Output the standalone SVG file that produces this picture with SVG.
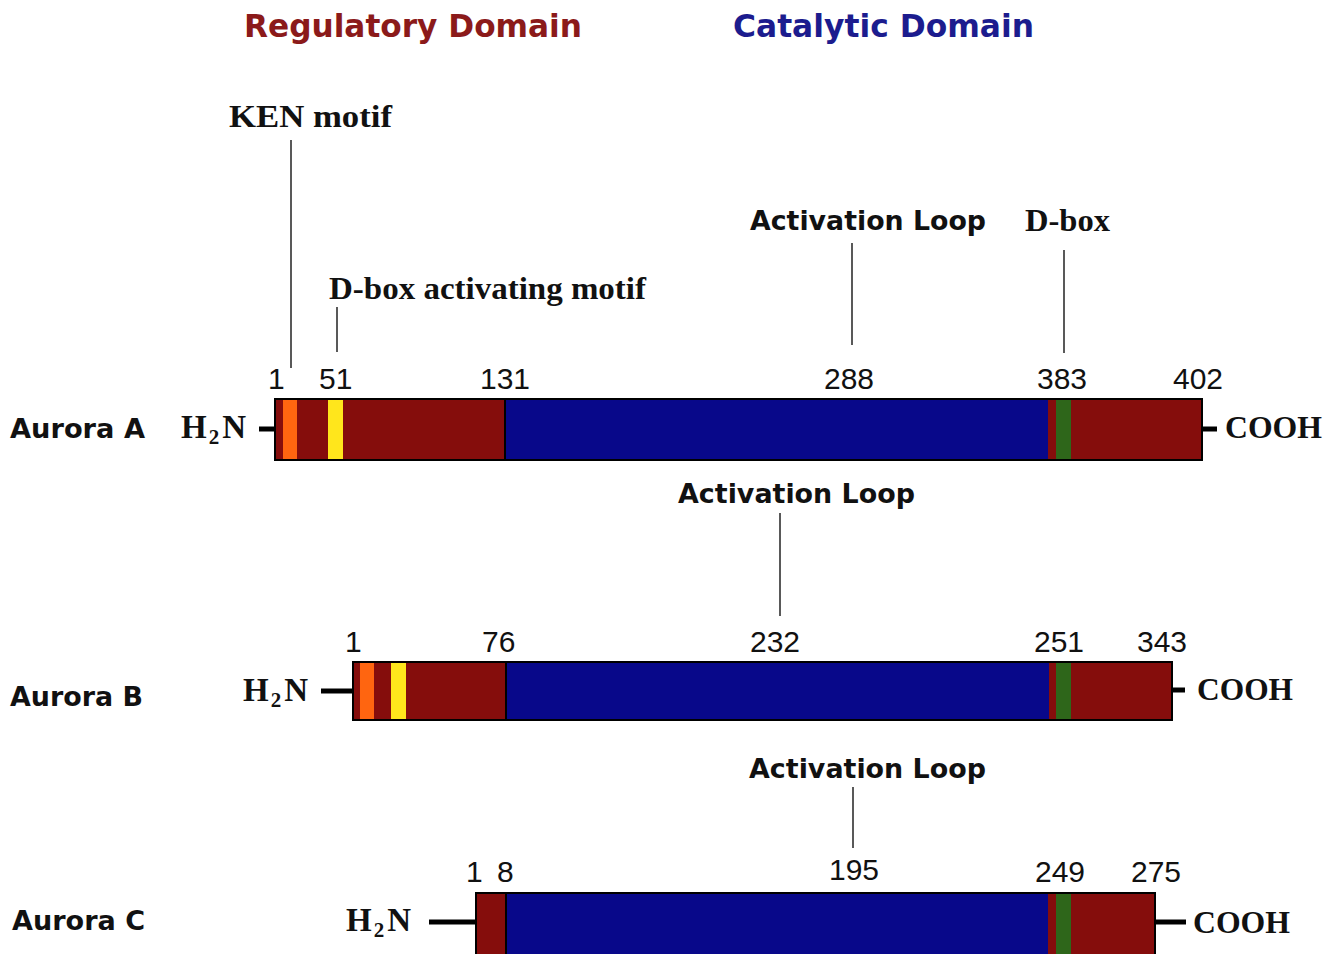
<svg xmlns="http://www.w3.org/2000/svg" width="1342" height="954" viewBox="0 0 1342 954">
<style>
.title{font-family:"DejaVu Sans",Verdana,sans-serif;font-weight:bold;font-size:32px}
.lab{font-family:"DejaVu Sans",Verdana,sans-serif;font-weight:bold;font-size:27px;fill:#111}
.num{font-family:"Liberation Sans",Arial,sans-serif;font-size:30px;fill:#111}
.ser{font-family:"Liberation Serif","Times New Roman",serif;font-weight:bold;font-size:32px;fill:#111}
.h2n{font-family:"Liberation Serif","Times New Roman",serif;font-weight:bold;font-size:33px;fill:#111}
.sub{font-size:21px}
.red{fill:#850d0c}
.blue{fill:#08088a}
.orange{fill:#ff6510}
.yellow{fill:#ffe61c}
.green{fill:#2e661a}
.frame{fill:none;stroke:#000;stroke-width:2}
.div{stroke:#000;stroke-width:2}
.stub{stroke:#000;stroke-width:5}
.lead{stroke:#222;stroke-width:1.5;fill:none}
</style>
<rect width="1342" height="954" fill="#fff"/>
<g id="titles">
<text class="title" x="244" y="37" fill="#8b1a1a" textLength="338" lengthAdjust="spacingAndGlyphs">Regulatory Domain</text>
<text class="title" x="733" y="37" fill="#1c1c8e" textLength="301" lengthAdjust="spacingAndGlyphs">Catalytic Domain</text>
</g>
<g id="aurora-a">
<text class="lab" x="10" y="438" textLength="135" lengthAdjust="spacingAndGlyphs">Aurora A</text>
<text class="h2n" x="181" y="438">H<tspan class="sub" dx="2" dy="6">2</tspan><tspan dx="3" dy="-6">N</tspan></text>
<line class="stub" x1="259" y1="429" x2="275" y2="429"/>
<rect class="red" x="275" y="399" width="927" height="61"/>
<rect class="orange" x="283" y="399" width="14" height="61"/>
<rect class="yellow" x="328" y="399" width="15" height="61"/>
<rect class="blue" x="505" y="399" width="543" height="61"/>
<rect class="green" x="1056" y="399" width="15" height="61"/>
<line class="div" x1="505" y1="399" x2="505" y2="460"/>
<rect class="frame" x="275" y="399" width="927" height="61"/>
<line class="stub" x1="1202" y1="429" x2="1217" y2="429"/>
<text class="ser" x="1225" y="438" textLength="97" lengthAdjust="spacingAndGlyphs">COOH</text>
<text class="num" x="268" y="389">1</text>
<text class="num" x="319" y="389">51</text>
<text class="num" x="480" y="389">131</text>
<text class="num" x="824" y="389">288</text>
<text class="num" x="1037" y="389">383</text>
<text class="num" x="1173" y="389">402</text>
<text class="ser" x="229" y="127" textLength="163" lengthAdjust="spacingAndGlyphs">KEN  motif</text>
<text class="ser" x="329" y="299" textLength="317" lengthAdjust="spacingAndGlyphs">D-box activating motif</text>
<text class="lab" x="750" y="230" textLength="236" lengthAdjust="spacingAndGlyphs">Activation Loop</text>
<text class="ser" x="1025" y="231" textLength="85" lengthAdjust="spacingAndGlyphs">D-box</text>
</g>
<g id="aurora-b">
<text class="lab" x="10" y="706" textLength="133" lengthAdjust="spacingAndGlyphs">Aurora B</text>
<text class="h2n" x="243" y="701">H<tspan class="sub" dx="2" dy="6">2</tspan><tspan dx="3" dy="-6">N</tspan></text>
<line class="stub" x1="321" y1="691" x2="353" y2="691"/>
<rect class="red" x="353" y="662" width="819" height="58"/>
<rect class="orange" x="360" y="662" width="14" height="58"/>
<rect class="yellow" x="391" y="662" width="15" height="58"/>
<rect class="blue" x="506" y="662" width="543" height="58"/>
<rect class="green" x="1056" y="662" width="15" height="58"/>
<line class="div" x1="506" y1="662" x2="506" y2="720"/>
<rect class="frame" x="353" y="662" width="819" height="58"/>
<line class="stub" x1="1172" y1="690" x2="1185" y2="690"/>
<text class="ser" x="1197" y="700" textLength="96" lengthAdjust="spacingAndGlyphs">COOH</text>
<text class="num" x="345" y="652">1</text>
<text class="num" x="482" y="652">76</text>
<text class="num" x="750" y="652">232</text>
<text class="num" x="1034" y="652">251</text>
<text class="num" x="1137" y="652">343</text>
<text class="lab" x="678" y="503" textLength="237" lengthAdjust="spacingAndGlyphs">Activation Loop</text>
</g>
<g id="aurora-c">
<text class="lab" x="12" y="930" textLength="133" lengthAdjust="spacingAndGlyphs">Aurora C</text>
<text class="h2n" x="346" y="931">H<tspan class="sub" dx="2" dy="6">2</tspan><tspan dx="3" dy="-6">N</tspan></text>
<line class="stub" x1="429" y1="922" x2="476" y2="922"/>
<rect class="red" x="476" y="893" width="679" height="63"/>
<rect class="blue" x="506" y="893" width="542" height="63"/>
<rect class="green" x="1056" y="893" width="15" height="63"/>
<line class="div" x1="506" y1="893" x2="506" y2="956"/>
<rect class="frame" x="476" y="893" width="679" height="63"/>
<line class="stub" x1="1155" y1="922" x2="1186" y2="922"/>
<text class="ser" x="1193" y="933" textLength="97" lengthAdjust="spacingAndGlyphs">COOH</text>
<text class="num" x="466" y="882">1</text>
<text class="num" x="497" y="882">8</text>
<text class="num" x="829" y="880">195</text>
<text class="num" x="1035" y="882">249</text>
<text class="num" x="1131" y="882">275</text>
<text class="lab" x="749" y="778" textLength="237" lengthAdjust="spacingAndGlyphs">Activation Loop</text>
</g>
<g id="connectors">
<line class="lead" x1="291" y1="140" x2="291" y2="368"/>
<line class="lead" x1="337" y1="307" x2="337" y2="352"/>
<line class="lead" x1="852" y1="243" x2="852" y2="345"/>
<line class="lead" x1="1064" y1="250" x2="1064" y2="353"/>
<line class="lead" x1="780" y1="513" x2="780" y2="616"/>
<line class="lead" x1="853" y1="787" x2="853" y2="848"/>
</g>
</svg>
